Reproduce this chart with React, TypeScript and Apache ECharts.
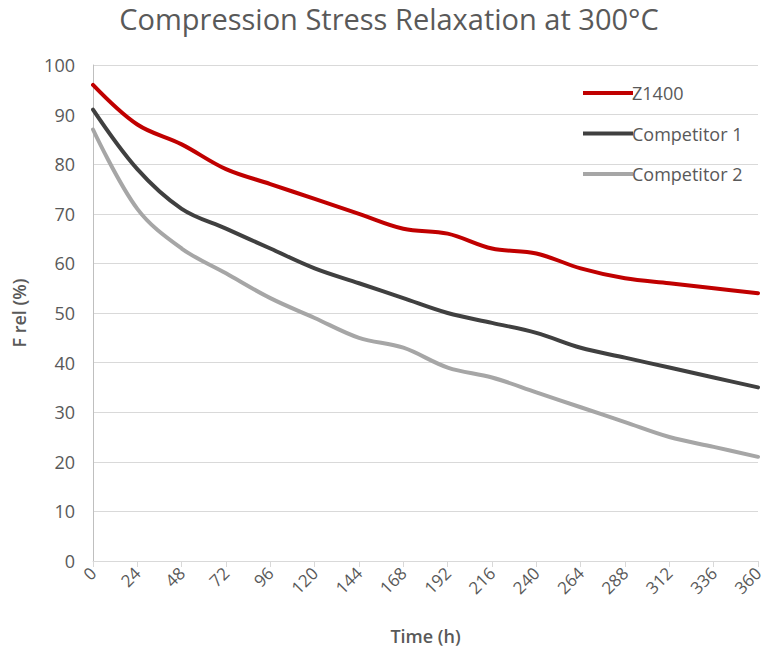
import React, { useEffect, useRef } from "react";
import * as echarts from "echarts";

const hours = [0, 24, 48, 72, 96, 120, 144, 168, 192, 216, 240, 264, 288, 312, 336, 360];
const z1400 = [96, 88, 84, 79, 76, 73, 70, 67, 66, 63, 62, 59, 57, 56, 55, 54];
const competitor1 = [91, 79, 71, 67, 63, 59, 56, 53, 50, 48, 46, 43, 41, 39, 37, 35];
const competitor2 = [87, 71, 63, 58, 53, 49, 45, 43, 39, 37, 34, 31, 28, 25, 23, 21];
const seriesNames = ["Z1400", "Competitor 1", "Competitor 2"];
const seriesColors = ["#c00000", "#404040", "#a6a6a6"];

const FONT = "'Open Sans', 'Noto Sans', sans-serif";
const TXT = "#595959";

export default function App() {
  const ref = useRef<HTMLDivElement>(null);
  useEffect(() => {
    if (!ref.current) return;
    const chart = echarts.init(ref.current, undefined, { renderer: "svg" });
    const all = [z1400, competitor1, competitor2];
    chart.setOption({
      animation: false,
      backgroundColor: "#ffffff",
      title: {
        text: "Compression Stress Relaxation at 300°C",
        left: 384,
        textAlign: "center",
        top: -1,
        textStyle: { fontFamily: FONT, fontSize: 29, fontWeight: "normal", color: TXT },
      },
      legend: {
        orient: "vertical",
        left: 578,
        top: 79,
        itemWidth: 50,
        itemHeight: 4,
        itemGap: 22.5,
        icon: "rect",
        data: seriesNames,
        textStyle: { fontFamily: FONT, fontSize: 18, color: TXT, padding: [0, 0, 0, -6] },
      },
      grid: {
        left: 93,
        right: 8,
        top: 65,
        bottom: 89,
        containLabel: false,
        outerBoundsMode: "none",
      },
      xAxis: {
        type: "value",
        min: 0,
        max: 360,
        interval: 24,
        name: "Time (h)",
        nameLocation: "middle",
        nameGap: 66,
        nameTextStyle: { fontFamily: FONT, fontSize: 18, fontWeight: 600, color: TXT },
        axisLine: { show: true, lineStyle: { color: "#d9d9d9", width: 1 } },
        axisTick: { show: true, length: 6, lineStyle: { color: "#d9d9d9" } },
        axisLabel: { rotate: 45, fontFamily: FONT, fontSize: 17, color: TXT, margin: 9 },
        splitLine: { show: false },
      },
      yAxis: {
        type: "value",
        min: 0,
        max: 100,
        interval: 10,
        name: "F rel (%)",
        nameLocation: "middle",
        nameGap: 65,
        nameTextStyle: { fontFamily: FONT, fontSize: 18, fontWeight: 600, color: TXT },
        axisLine: { show: true, lineStyle: { color: "#bfbfbf", width: 1 } },
        axisTick: { show: false },
        axisLabel: { fontFamily: FONT, fontSize: 18, color: TXT, margin: 18 },
        splitLine: { show: true, lineStyle: { color: "#d9d9d9", width: 1 } },
      },
      series: seriesNames.map((name, i) => ({
        name,
        type: "line",
        data: hours.map((h, j) => [h, all[i][j]]),
        smooth: 0.35,
        showSymbol: false,
        symbol: "none",
        lineStyle: { color: seriesColors[i], width: 4, cap: "round" },
        itemStyle: { color: seriesColors[i] },
      })),
    });
    return () => chart.dispose();
  }, []);
  return (
    <div
      ref={ref}
      style={{ position: "absolute", left: 0, top: 0, width: 766, height: 650 }}
    />
  );
}
